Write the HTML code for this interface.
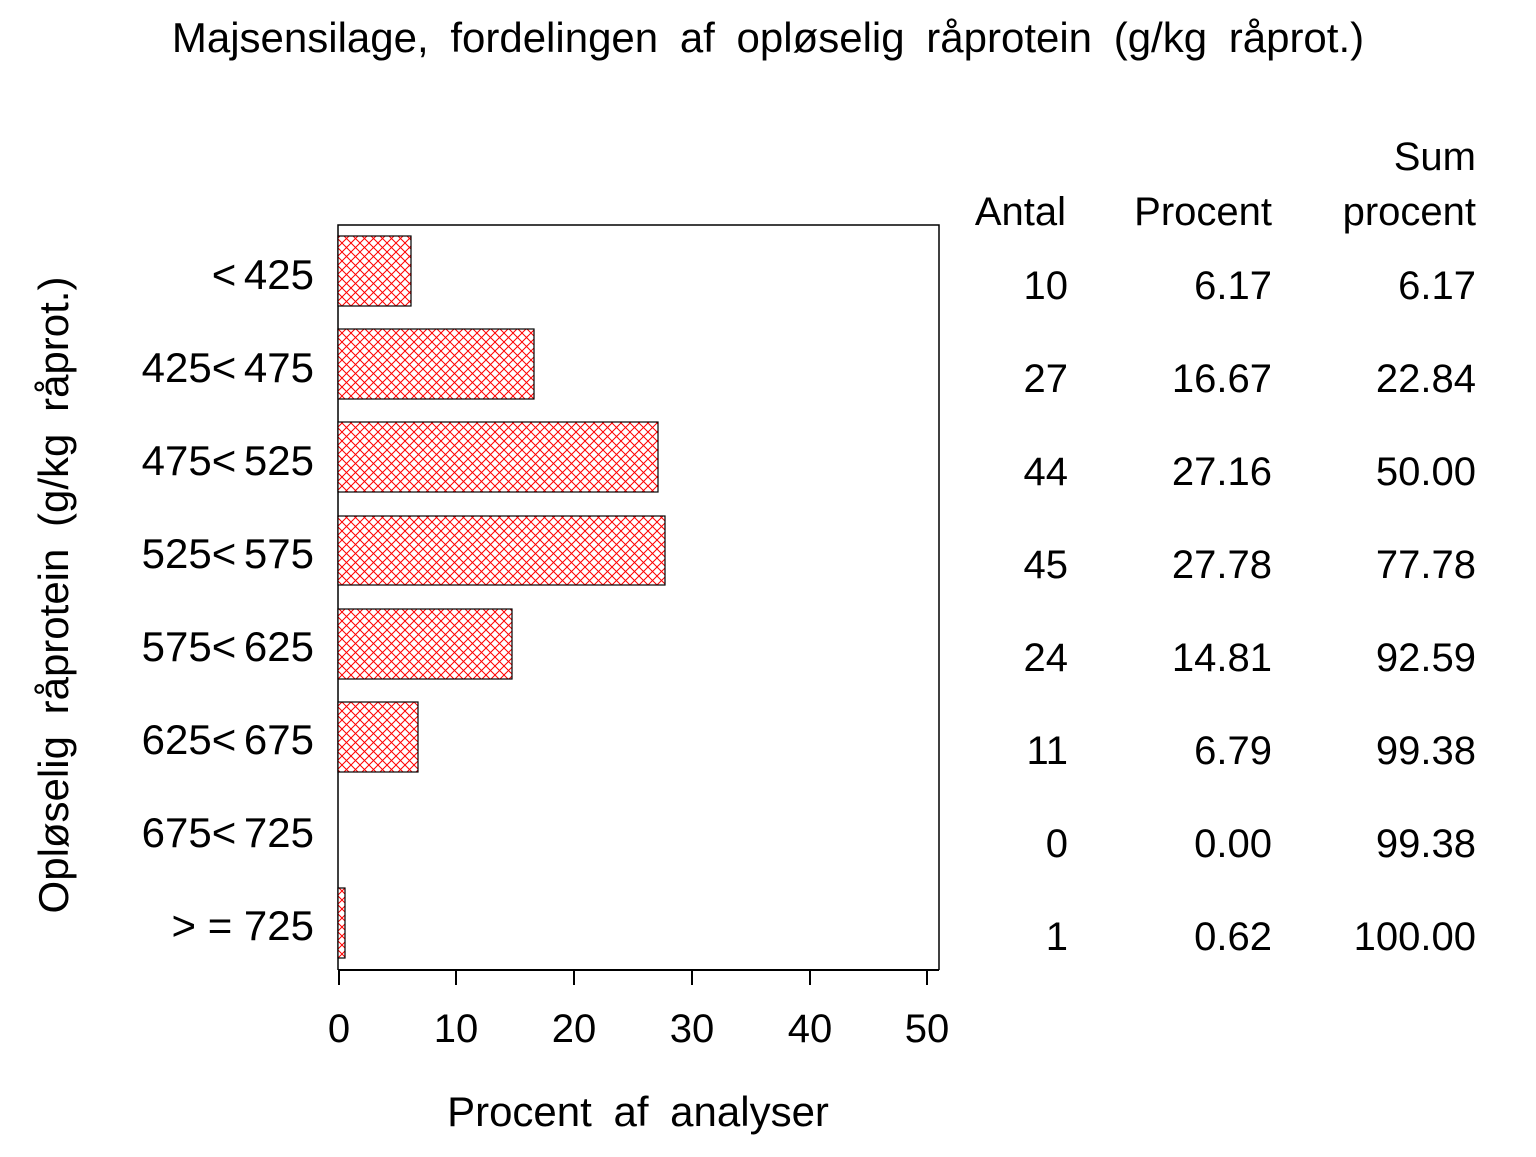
<!DOCTYPE html>
<html><head><meta charset="utf-8"><style>
body{margin:0;background:#fff;}
svg text{font-family:"Liberation Sans",sans-serif;fill:#000;}
</style></head><body>
<svg width="1536" height="1152" viewBox="0 0 1536 1152" xmlns="http://www.w3.org/2000/svg">
<defs>
<pattern id="h" width="9" height="9" patternUnits="userSpaceOnUse">
<rect width="9" height="9" fill="#fff"/>
<path d="M0,0L9,9M9,0L0,9" stroke="#f00" stroke-width="1"/>
</pattern>
</defs>
<text x="768" y="52" font-size="42" text-anchor="middle" word-spacing="10">Majsensilage, fordelingen af opløselig råprotein (g/kg råprot.)</text>
<text transform="translate(68,595) rotate(-90)" font-size="42" text-anchor="middle" word-spacing="10">Opløselig råprotein (g/kg råprot.)</text>
<path d="M338,970V225H939V970" fill="none" stroke="#000" stroke-width="1.5"/>
<path d="M338,970H939" stroke="#000" stroke-width="2"/>
<g stroke="#000" stroke-width="2">
<path d="M339,970v15M456,970v15M574,970v15M692,970v15M810,970v15M927,970v15"/>
</g>
<g font-size="40" text-anchor="middle">
<text x="339" y="1042">0</text><text x="456" y="1042">10</text><text x="574" y="1042">20</text><text x="692" y="1042">30</text><text x="810" y="1042">40</text><text x="927" y="1042">50</text>
</g>
<text x="638" y="1126" font-size="42" text-anchor="middle" word-spacing="10">Procent af analyser</text>
<g fill="url(#h)" stroke="#000" stroke-width="1.2">
<rect x="338" y="236" width="73" height="70"/>
<rect x="338" y="329" width="196" height="70"/>
<rect x="338" y="422" width="320" height="70"/>
<rect x="338" y="516" width="327" height="69"/>
<rect x="338" y="609" width="174" height="70"/>
<rect x="338" y="702" width="80" height="70"/>
<rect x="338" y="888" width="7" height="70"/>
</g>
<g font-size="42" text-anchor="end">
<text x="314" y="289" word-spacing="-4">&lt; 425</text>
<text x="314" y="382" word-spacing="-4">425&lt; 475</text>
<text x="314" y="475" word-spacing="-4">475&lt; 525</text>
<text x="314" y="568" word-spacing="-4">525&lt; 575</text>
<text x="314" y="661" word-spacing="-4">575&lt; 625</text>
<text x="314" y="754" word-spacing="-4">625&lt; 675</text>
<text x="314" y="847" word-spacing="-4">675&lt; 725</text>
<text x="314" y="940">&gt; = 725</text>
</g>
<g font-size="40" text-anchor="end">
<text x="1476" y="170">Sum</text>
<text x="1066" y="225">Antal</text><text x="1272" y="225">Procent</text><text x="1476" y="225">procent</text>
<text x="1068" y="299">10</text><text x="1272" y="299">6.17</text><text x="1476" y="299">6.17</text>
<text x="1068" y="392">27</text><text x="1272" y="392">16.67</text><text x="1476" y="392">22.84</text>
<text x="1068" y="485">44</text><text x="1272" y="485">27.16</text><text x="1476" y="485">50.00</text>
<text x="1068" y="578">45</text><text x="1272" y="578">27.78</text><text x="1476" y="578">77.78</text>
<text x="1068" y="671">24</text><text x="1272" y="671">14.81</text><text x="1476" y="671">92.59</text>
<text x="1068" y="764">11</text><text x="1272" y="764">6.79</text><text x="1476" y="764">99.38</text>
<text x="1068" y="857">0</text><text x="1272" y="857">0.00</text><text x="1476" y="857">99.38</text>
<text x="1068" y="950">1</text><text x="1272" y="950">0.62</text><text x="1476" y="950">100.00</text>
</g>
</svg>
</body></html>
